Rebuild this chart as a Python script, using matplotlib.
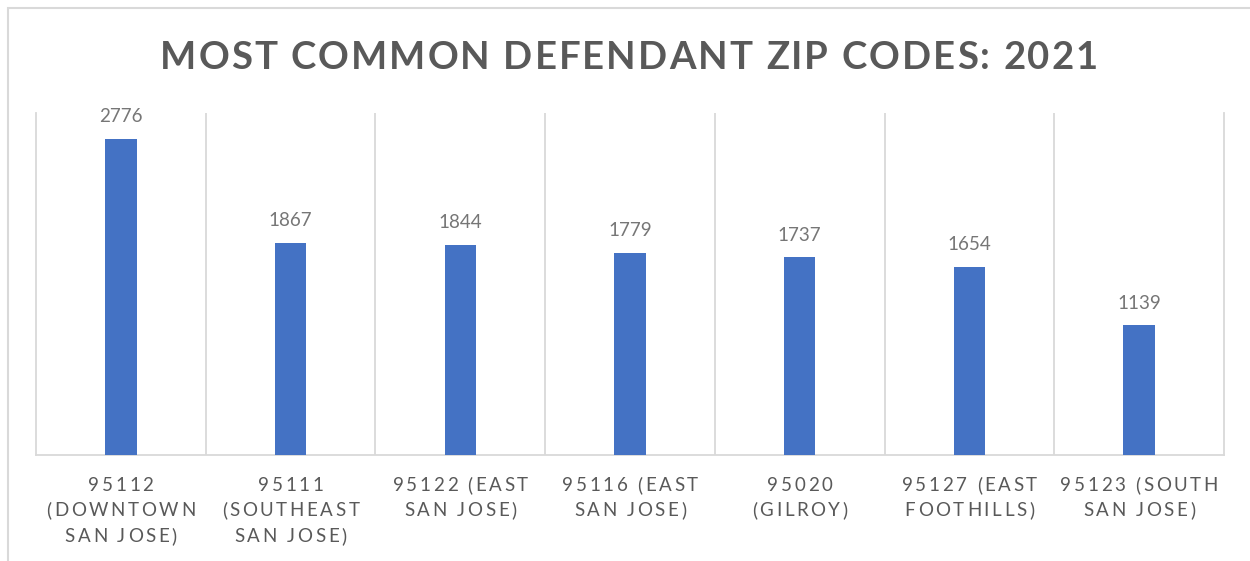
import numpy as np
import matplotlib.pyplot as plt
from matplotlib.font_manager import FontProperties

# data
zip_labels = [
    "95112\n(DOWNTOWN\nSAN JOSE)",
    "95111\n(SOUTHEAST\nSAN JOSE)",
    "95122 (EAST\nSAN JOSE)",
    "95116 (EAST\nSAN JOSE)",
    "95020\n(GILROY)",
    "95127 (EAST\nFOOTHILLS)",
    "95123 (SOUTH\nSAN JOSE)",
]
counts = [2776, 1867, 1844, 1779, 1737, 1654, 1139]
title = "MOST COMMON DEFENDANT ZIP CODES: 2021"

FONT = "Lato"
W, H = 1250, 561

fig = plt.figure(figsize=(W / 100, H / 100), dpi=100)
ax = fig.add_axes([36 / W, 1 - 455 / H, (1224 - 36) / W, (455 - 113) / H])

x = np.arange(len(counts))
ax.bar(x, counts, width=0.185, color="#4472C4", zorder=3)
ax.set_xlim(-0.5, len(counts) - 0.5)
ax.set_ylim(0, 3005)
ax.set_yticks([])
ax.set_xticks(np.arange(0.5, len(counts) - 1, 1))
ax.tick_params(length=0, labelbottom=False)
ax.grid(axis="x", color="#d9d9d9", lw=1.3, zorder=0)
ax.spines["top"].set_visible(False)
for s in ["left", "right", "bottom"]:
    ax.spines[s].set_color("#d9d9d9")
    ax.spines[s].set_linewidth(1.3)

# value labels
for xi, v in zip(x, counts):
    ax.annotate(str(v), (xi, v), xytext=(0, 12), textcoords="offset points",
                ha="center", va="baseline", fontsize=13.5, color="#767676",
                family=FONT)

renderer = fig.canvas.get_renderer()


def spaced(s, cx, y, size, weight, color, spacing=0.0, width=None):
    # draw text char by char to get letter spacing like the original
    fp = FontProperties(family=FONT, size=size, weight=weight)
    base = renderer.get_text_width_height_descent("xx", fp, ismath=False)[0]
    adv = [renderer.get_text_width_height_descent("x" + c + "x", fp, ismath=False)[0] - base
           for c in s]
    if width is not None:
        spacing = (width - sum(adv)) / (len(s) - 1)
    total = sum(adv) + spacing * (len(s) - 1)
    left = cx - total / 2
    for c, a in zip(s, adv):
        if c != " ":
            fig.text(left, y, c, transform=None, fontproperties=fp, color=color,
                     ha="left", va="baseline")
        left += a + spacing


# title
spaced(title, 629, H - 69, 27.5, "bold", "#595959", width=938)

# category labels
line_base = [491, 516.5, 542]
for xi, lab in zip(x, zip_labels):
    cx = ax.transData.transform((xi, 0))[0]
    for j, line in enumerate(lab.split("\n")):
        spaced(line, cx, H - line_base[j], 13.5, "normal", "#595959", spacing=2.6)

# outer chart border
fig.add_artist(plt.Rectangle((7.5, -10), 1300, H - 7.5 + 10, transform=None,
                             fill=False, ec="#d9d9d9", lw=1.5))

fig.savefig("out.png", dpi=100)
